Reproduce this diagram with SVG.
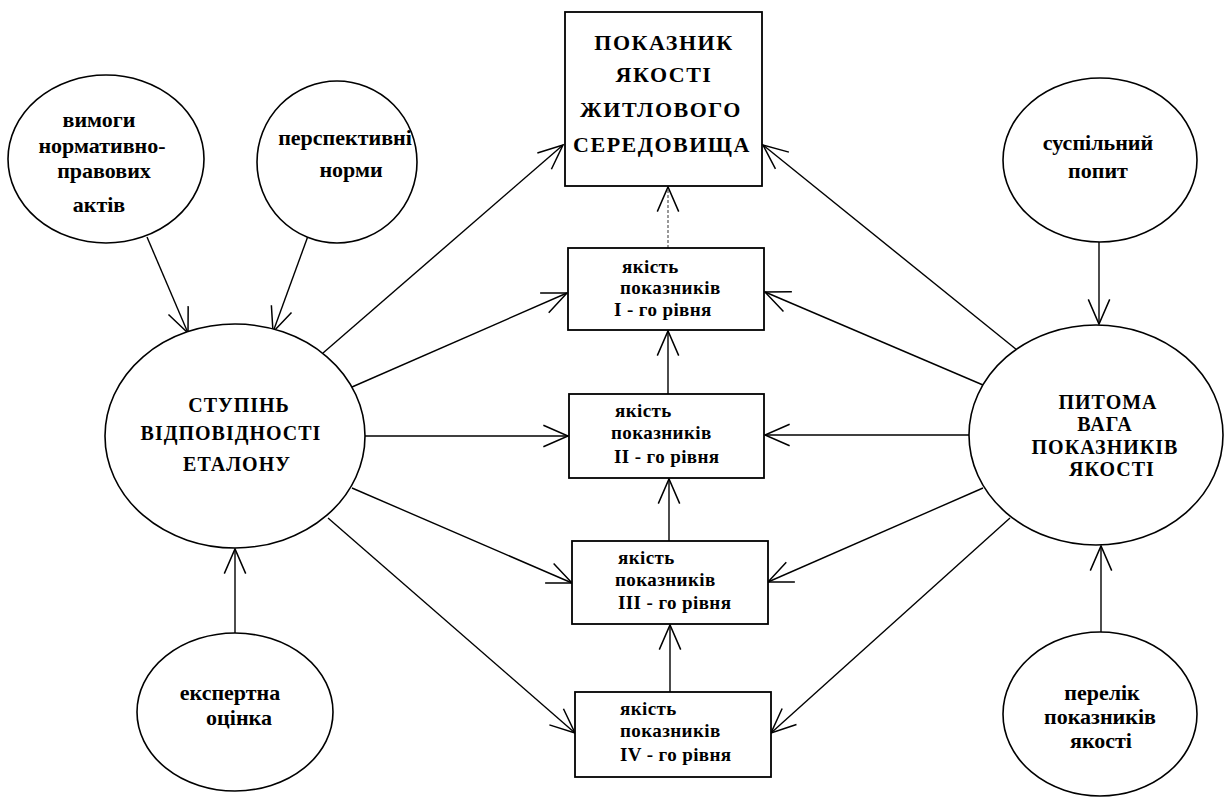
<svg xmlns="http://www.w3.org/2000/svg" width="1229" height="798" viewBox="0 0 1229 798">
<defs>
<marker id="ah" markerUnits="userSpaceOnUse" markerWidth="30" markerHeight="30" viewBox="-26 -14 28 28" refX="0" refY="0" orient="auto" overflow="visible">
<path d="M-23,-10 L0,0 L-23,10" fill="none" stroke="#000" stroke-width="1.4"/>
</marker>
</defs>
<style>
.bg{fill:#fff}
.el{fill:#fff;stroke:#000;stroke-width:1.6}
.bx{fill:#fff;stroke:#000;stroke-width:1.8}
.c{stroke:#000;stroke-width:1.4;fill:none;marker-end:url(#ah)}
.cd{stroke:#555;stroke-width:1.2;fill:none;stroke-dasharray:3 2;marker-end:url(#ah)}
text{font-family:"Liberation Serif","DejaVu Serif",serif;font-weight:bold;fill:#000}
.e{font-size:22px;text-anchor:middle}
.k{font-size:20px;text-anchor:middle;letter-spacing:1px}
.t{font-size:22px;text-anchor:middle;letter-spacing:1.5px}
.b{font-size:19px;letter-spacing:0.4px}
</style>
<rect class="bg" x="0" y="0" width="1229" height="798"/>

<g id="connectors">
<line class="c" x1="147" y1="237" x2="188" y2="333"/>
<line class="c" x1="308" y1="236" x2="273" y2="332"/>
<line class="c" x1="1099" y1="242" x2="1099" y2="324"/>
<line class="c" x1="235" y1="633" x2="235" y2="549"/>
<line class="c" x1="1101" y1="632" x2="1101" y2="546"/>

<line class="c" x1="323" y1="353" x2="563" y2="145"/>
<line class="c" x1="352" y1="387" x2="567" y2="293"/>
<line class="c" x1="365" y1="436" x2="568" y2="436"/>
<line class="c" x1="352" y1="488" x2="572" y2="583"/>
<line class="c" x1="328" y1="518" x2="575" y2="733"/>

<line class="c" x1="1017" y1="350" x2="763" y2="145"/>
<line class="c" x1="983" y1="385" x2="765" y2="292"/>
<line class="c" x1="969" y1="435" x2="765" y2="435"/>
<line class="c" x1="983" y1="488" x2="768" y2="582"/>
<line class="c" x1="1010" y1="518" x2="771" y2="733"/>

<line class="cd" x1="668" y1="248" x2="668" y2="187"/>
<line class="c" x1="668" y1="394" x2="668" y2="331"/>
<line class="c" x1="669" y1="541" x2="669" y2="479"/>
<line class="c" x1="670" y1="692" x2="670" y2="625"/>
</g>

<g id="n-vymogy">
<ellipse class="el" cx="106" cy="159" rx="98" ry="84"/>
<text class="e" x="99" y="127">вимоги</text>
<text class="e" x="102" y="153">нормативно-</text>
<text class="e" x="104" y="178">правових</text>
<text class="e" x="99" y="212">актів</text>
</g>

<g id="n-perspektyvni">
<ellipse class="el" cx="337" cy="162" rx="80" ry="81"/>
<text class="e" x="345" y="145">перспективні</text>
<text class="e" x="351" y="177">норми</text>
</g>

<g id="n-stupin">
<ellipse class="el" cx="235" cy="436" rx="130" ry="112"/>
<text class="k" x="239" y="412">СТУПІНЬ</text>
<text class="k" x="231" y="440">ВІДПОВІДНОСТІ</text>
<text class="k" x="237" y="471">ЕТАЛОНУ</text>
</g>

<g id="n-ekspertna">
<ellipse class="el" cx="235" cy="712" rx="98" ry="79"/>
<text class="e" x="230" y="700">експертна</text>
<text class="e" x="239" y="725">оцінка</text>
</g>

<g id="n-pokaznyk">
<rect class="bx" x="565" y="12" width="197" height="174"/>
<text class="t" x="664" y="50">ПОКАЗНИК</text>
<text class="t" x="664" y="82">ЯКОСТІ</text>
<text class="t" x="661" y="117">ЖИТЛОВОГО</text>
<text class="t" x="662" y="152">СЕРЕДОВИЩА</text>
</g>

<g id="n-level1">
<rect class="bx" x="568" y="248" width="196" height="82"/>
<text class="b" x="622" y="273">якість</text>
<text class="b" x="620" y="294">показників</text>
<text class="b" x="614" y="316">I - го рівня</text>
</g>

<g id="n-level2">
<rect class="bx" x="569" y="394" width="195" height="84"/>
<text class="b" x="615" y="417">якість</text>
<text class="b" x="611" y="439">показників</text>
<text class="b" x="614" y="463">II - го рівня</text>
</g>

<g id="n-level3">
<rect class="bx" x="572" y="541" width="196" height="83"/>
<text class="b" x="618" y="564">якість</text>
<text class="b" x="615" y="586">показників</text>
<text class="b" x="618" y="609">III - го рівня</text>
</g>

<g id="n-level4">
<rect class="bx" x="575" y="692" width="196" height="85"/>
<text class="b" x="620" y="715">якість</text>
<text class="b" x="620" y="737">показників</text>
<text class="b" x="620" y="761">IV - го рівня</text>
</g>

<g id="n-suspilnyi">
<ellipse class="el" cx="1100" cy="160" rx="97" ry="82"/>
<text class="e" x="1098" y="150">суспільний</text>
<text class="e" x="1098" y="178">попит</text>
</g>

<g id="n-pytoma">
<ellipse class="el" cx="1096" cy="435" rx="127" ry="110"/>
<text class="k" x="1108" y="409">ПИТОМА</text>
<text class="k" x="1105" y="431">ВАГА</text>
<text class="k" x="1105" y="454">ПОКАЗНИКІВ</text>
<text class="k" x="1112" y="476">ЯКОСТІ</text>
</g>

<g id="n-perelik">
<ellipse class="el" cx="1100" cy="714" rx="97" ry="82"/>
<text class="e" x="1102" y="700">перелік</text>
<text class="e" x="1100" y="724">показників</text>
<text class="e" x="1101" y="748">якості</text>
</g>
</svg>
